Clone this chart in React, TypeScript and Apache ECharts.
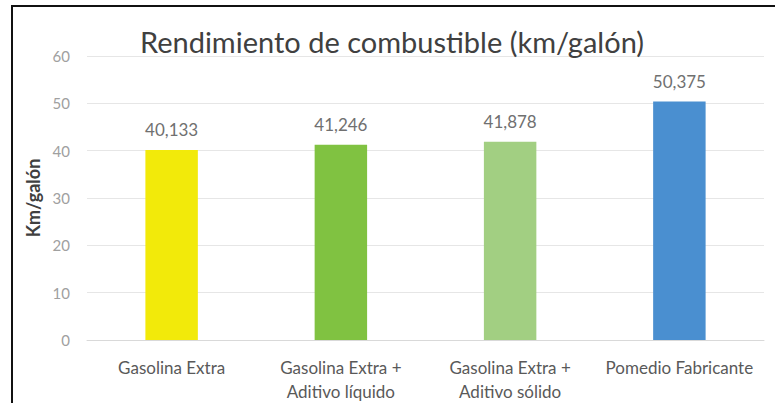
import React, { useEffect, useRef } from "react";
import * as echarts from "echarts";

const categories = [
  "Gasolina Extra",
  "Gasolina Extra +\nAditivo líquido",
  "Gasolina Extra +\nAditivo sólido",
  "Pomedio Fabricante",
];
const values = [40.133, 41.246, 41.878, 50.375];
const barColors = ["#F2EA0A", "#80C241", "#A2CF82", "#4A8FD0"];
const titleText = "Rendimiento de combustible (km/galón)";
const yAxisName = "Km/galón";

export default function App() {
  const ref = useRef<HTMLDivElement>(null);
  useEffect(() => {
    if (!ref.current) return;
    const chart = echarts.init(ref.current, undefined, { renderer: "svg" });
    const font = "Lato, 'Open Sans', sans-serif";
    chart.setOption({
      animation: false,
      backgroundColor: "#ffffff",
      title: {
        text: titleText,
        left: 387,
        top: 22,
        textAlign: "center",
        textStyle: { fontFamily: font, fontSize: 29, fontWeight: "normal", color: "#404040" },
      },
      graphic: [
        { type: "line", shape: { x1: 11, y1: 6, x2: 775, y2: 6 }, style: { stroke: "#111", lineWidth: 2 } },
        { type: "line", shape: { x1: 12, y1: 6, x2: 12, y2: 403 }, style: { stroke: "#111", lineWidth: 2 } },
      ],
      grid: { left: 87, right: 11, top: 56, bottom: 58 },
      xAxis: {
        type: "category",
        data: categories,
        axisLine: { lineStyle: { color: "#d9d9d9" } },
        axisTick: { show: false },
        axisLabel: {
          fontFamily: font,
          fontSize: 17,
          color: "#595959",
          lineHeight: 24,
          margin: 15,
          interval: 0,
        },
      },
      yAxis: {
        type: "value",
        min: 0,
        max: 60,
        interval: 10,
        name: yAxisName,
        nameLocation: "middle",
        nameGap: 44,
        nameTextStyle: { fontFamily: font, fontSize: 18, fontWeight: "bold", color: "#404040" },
        axisLine: { show: false },
        axisTick: { show: false },
        splitLine: { lineStyle: { color: "#e6e6e6" } },
        axisLabel: { fontFamily: font, fontSize: 15, color: "#a0a0a0", margin: 17 },
      },
      series: [
        {
          type: "bar",
          barWidth: "31%",
          data: values.map((v, i) => ({ value: v, itemStyle: { color: barColors[i] } })),
          label: {
            show: true,
            position: "top",
            distance: 12,
            fontFamily: font,
            fontSize: 17,
            color: "#707070",
            formatter: (p: any) => p.value.toFixed(3).replace(".", ","),
          },
        },
      ],
    });
    return () => chart.dispose();
  }, []);
  return <div ref={ref} style={{ width: 775, height: 403, position: "absolute", left: 0, top: 0 }} />;
}
